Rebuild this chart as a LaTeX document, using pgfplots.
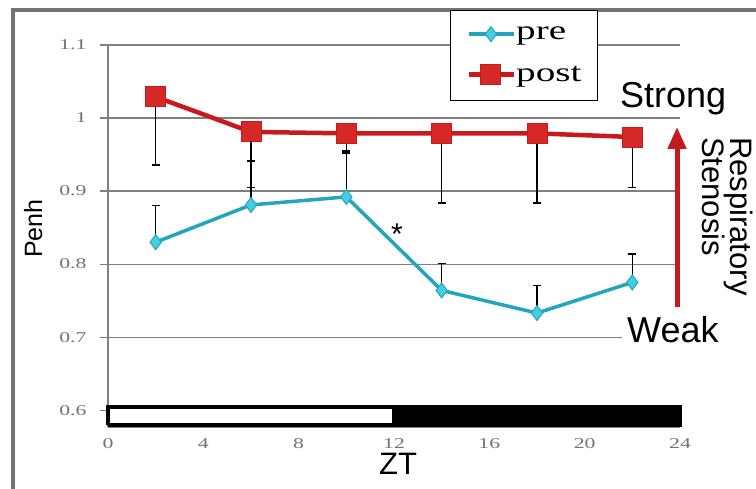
\documentclass[border=0pt]{standalone}
\usepackage{pgfplots}
\pgfplotsset{compat=1.18}
\usepackage{fontspec}
\usetikzlibrary{arrows.meta}
\newfontfamily\serifw{Liberation Serif}[FakeStretch=1.45]
\newfontfamily\sansf{Liberation Sans}
\definecolor{precyan}{RGB}{35,165,190}
\definecolor{premark}{RGB}{70,205,225}
\definecolor{postred}{RGB}{200,25,30}
\definecolor{postfill}{RGB}{215,40,40}
\begin{document}
\begin{tikzpicture}
\path[use as bounding box] (0pt,0pt) rectangle (756pt,488pt);
\draw[black!55, line width=4pt] (13pt,-20pt) -- (13pt,478pt) -- (800pt,478pt);
\begin{axis}[
  at={(108pt,61pt)}, anchor=south west,
  scale only axis, width=572pt, height=382pt,
  xmin=0, xmax=24, ymin=0.577, ymax=1.1,
  xtick={0,4,8,12,16,20,24},
  ytick={0.6,0.7,0.8,0.9,1,1.1},
  axis lines*=left,
  axis line style={black!50, line width=1.2pt},
  ymajorgrids,
  grid style={black!50, line width=1.2pt},
  tick align=outside, major tick length=8pt,
  tick style={black!50, line width=1.2pt},
  xtick style={draw=none},
  /pgf/number format/assume math mode=true,
  ticklabel style={font=\serifw\fontsize{15}{15}\selectfont, text=black!55},
  yticklabel style={xshift=-10pt},
  clip=false,
  legend cell align=left,
  legend style={at={(0.598,1.0916)}, anchor=north west, draw=black, line width=1.3pt, fill=white,
    font=\serifw\fontsize{27}{27}\selectfont, inner xsep=16pt, inner ysep=16pt, row sep=23pt,
    nodes={inner sep=0pt, text=black}},
  legend image code/.code={\draw[mark repeat=2, mark phase=2, #1] plot coordinates {(0pt,0pt) (22pt,0pt) (45pt,0pt)};},
]
\addplot[draw=black, fill=white, line width=4pt, forget plot] coordinates {(0,0.58) (12,0.58) (12,0.6047) (0,0.6047) (0,0.58)};
\addplot[draw=black, fill=black, line width=4pt, forget plot] coordinates {(12,0.58) (24,0.58) (24,0.6047) (12,0.6047) (12,0.58)};
\addplot[color=precyan, line width=3.5pt, mark=diamond*, mark size=7.5pt,
  mark options={fill=premark, draw=precyan, line width=1pt},
  error bars/.cd, y dir=plus, y explicit,
  error bar style={black, line width=1.2pt},
  error mark=-,
  error mark options={rotate=90, black, line width=1.5pt, mark size=4pt}]
  table[x=x, y=y, y error=e] {
x y e
2 0.830 0.050
6 0.881 0.060
10 0.892 0.060
14 0.764 0.037
18 0.733 0.038
22 0.775 0.039
};
\addlegendentry{pre}
\addplot[color=postred, line width=4.5pt, mark=square*, mark size=10pt,
  mark options={fill=postfill, draw=postred, line width=1pt},
  error bars/.cd, y dir=minus, y explicit,
  error bar style={black, line width=1.2pt},
  error mark=-,
  error mark options={rotate=90, black, line width=1.5pt, mark size=4pt}]
  table[x=x, y=y, y error=e] {
x y e
2 1.029 0.093
6 0.981 0.076
10 0.979 0.024
14 0.979 0.095
18 0.979 0.095
22 0.974 0.069
};
\addlegendentry{post}
\end{axis}
\node[font=\sansf\fontsize{36}{36}\selectfont, anchor=base west, inner sep=0pt] at (620pt,380pt) {Strong};
\node[font=\sansf\fontsize{36}{36}\selectfont, anchor=base west, fill=white, inner sep=5pt] at (622pt,145pt) {Weak};
\draw[postred, line width=5pt, -{Triangle[length=22pt,width=18pt]}] (677pt,181pt) -- (677pt,361pt);
\node[font=\sansf\fontsize{31}{31}\selectfont, rotate=-90, anchor=base west, inner sep=0pt] at (730pt,351pt) {Respiratory};
\node[font=\sansf\fontsize{31}{31}\selectfont, rotate=-90, anchor=base west, inner sep=0pt] at (702pt,351pt) {Stenosis};
\node[font=\sansf\fontsize{25}{25}\selectfont, rotate=90, anchor=base west, inner sep=0pt] at (42pt,230pt) {Penh};
\node[font=\sansf\fontsize{31}{31}\selectfont, anchor=base, inner sep=0pt] at (398pt,13pt) {ZT};
\node[font=\sansf\fontsize{30}{30}\selectfont, anchor=base, inner sep=0pt] at (397pt,243pt) {*};
\end{tikzpicture}
\end{document}
